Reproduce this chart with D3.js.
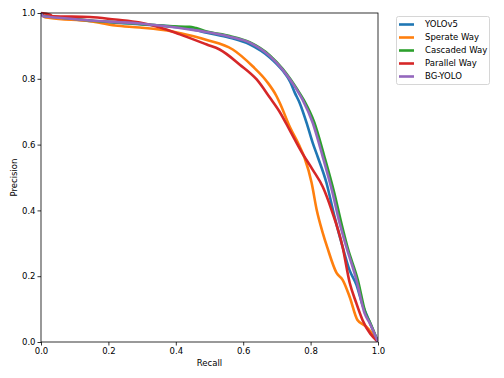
<!DOCTYPE html>
<html>
<head>
<meta charset="utf-8">
<script src="https://cdn.jsdelivr.net/npm/d3@7"></script>
<style>
  body { margin: 0; background: #fff; }
  svg { display: block; font-family: "DejaVu Sans", sans-serif; }
</style>
</head>
<body>
<svg id="chart"></svg>
<script>
// curve points, [recall, precision]
const yolov5 = [
  [0, 1.0], [0.01, 0.99], [0.027, 0.988], [0.145, 0.976], [0.293, 0.966], [0.441, 0.952],
  [0.492, 0.940], [0.56, 0.925], [0.619, 0.905], [0.679, 0.865], [0.717, 0.825], [0.74, 0.79],
  [0.753, 0.758], [0.767, 0.728], [0.79, 0.66], [0.806, 0.606], [0.821, 0.563], [0.847, 0.484],
  [0.871, 0.381], [0.895, 0.289], [0.915, 0.22], [0.936, 0.174], [0.955, 0.11], [0.969, 0.076], [1.0, 0.0]
];
const sperateWay = [
  [0, 1.0], [0.01, 0.988], [0.027, 0.985], [0.145, 0.975], [0.22, 0.962], [0.293, 0.956],
  [0.39, 0.944], [0.45, 0.93], [0.492, 0.918], [0.569, 0.889], [0.628, 0.838], [0.67, 0.792],
  [0.699, 0.747], [0.708, 0.728], [0.74, 0.65], [0.765, 0.6], [0.782, 0.56], [0.803, 0.484],
  [0.818, 0.402], [0.836, 0.332], [0.85, 0.286], [0.877, 0.21], [0.895, 0.189], [0.916, 0.137],
  [0.939, 0.067], [0.966, 0.046], [1.0, 0.0]
];
const cascadedWay = [
  [0, 1.0], [0.01, 0.99], [0.027, 0.989], [0.145, 0.977], [0.293, 0.967], [0.38, 0.96],
  [0.441, 0.958], [0.46, 0.954], [0.492, 0.944], [0.56, 0.93], [0.619, 0.911], [0.679, 0.871],
  [0.717, 0.83], [0.762, 0.765], [0.78, 0.735], [0.811, 0.667], [0.841, 0.563], [0.87, 0.454],
  [0.891, 0.362], [0.91, 0.286], [0.94, 0.189], [0.963, 0.088], [0.977, 0.058], [1.0, 0.0]
];
const parallelWay = [
  [0, 1.0], [0.027, 0.995], [0.035, 0.99], [0.145, 0.988], [0.22, 0.98], [0.293, 0.971],
  [0.353, 0.956], [0.412, 0.935], [0.492, 0.904], [0.53, 0.889], [0.59, 0.843], [0.64, 0.798],
  [0.679, 0.743], [0.708, 0.7], [0.74, 0.64], [0.773, 0.578], [0.806, 0.524], [0.836, 0.472],
  [0.862, 0.402], [0.895, 0.289], [0.916, 0.18], [0.935, 0.12], [0.954, 0.067], [1.0, 0.0]
];
const bgYolo = [
  [0, 1.0], [0.006, 0.99], [0.027, 0.988], [0.145, 0.977], [0.293, 0.968], [0.441, 0.95],
  [0.492, 0.942], [0.56, 0.928], [0.619, 0.91], [0.679, 0.869], [0.717, 0.828], [0.759, 0.767],
  [0.776, 0.737], [0.806, 0.667], [0.836, 0.563], [0.865, 0.454], [0.886, 0.362], [0.907, 0.286],
  [0.936, 0.189], [0.96, 0.088], [0.975, 0.058], [1.0, 0.0]
];

const names = ["YOLOv5", "Sperate Way", "Cascaded Way", "Parallel Way", "BG-YOLO"];
const curves = [yolov5, sperateWay, cascadedWay, parallelWay, bgYolo];
const colors = ["#1f77b4", "#ff7f0e", "#2ca02c", "#d62728", "#9467bd"];
const ticks = [0, 0.2, 0.4, 0.6, 0.8, 1.0];

const width = 504, height = 378;
const margin = { top: 13, right: 126, bottom: 36, left: 41 };

const svg = d3.select("#chart").attr("width", width).attr("height", height);

const x = d3.scaleLinear().domain([0, 1]).range([margin.left, width - margin.right]);
const y = d3.scaleLinear().domain([0, 1]).range([height - margin.bottom, margin.top]);

// curves, clipped to the axes box
svg.append("clipPath").attr("id", "clip")
  .append("rect")
  .attr("x", x(0)).attr("y", y(1) - 2)
  .attr("width", x(1) - x(0)).attr("height", y(0) - y(1) + 2);

const line = d3.line()
  .x(d => x(d[0]))
  .y(d => y(d[1]))
  .curve(d3.curveMonotoneX);

svg.append("g").attr("clip-path", "url(#clip)")
  .selectAll("path")
  .data(curves)
  .join("path")
  .attr("d", line)
  .attr("fill", "none")
  .attr("stroke", (d, i) => colors[i])
  .attr("stroke-width", 2.6)
  .attr("stroke-linejoin", "round");

// axes
const xAxis = svg.append("g")
  .attr("transform", `translate(0,${y(0)})`)
  .call(d3.axisBottom(x).tickValues(ticks).tickFormat(d3.format(".1f")).tickSize(3.5).tickPadding(2));
const yAxis = svg.append("g")
  .attr("transform", `translate(${x(0)},0)`)
  .call(d3.axisLeft(y).tickValues(ticks).tickFormat(d3.format(".1f")).tickSize(3.5).tickPadding(2));

[xAxis, yAxis].forEach(g => {
  g.select(".domain").remove();
  g.selectAll("line").attr("stroke", "#000").attr("stroke-width", 0.8);
  g.selectAll("text").attr("font-size", 8.5).attr("fill", "#000")
    .style("font-family", "DejaVu Sans");
});

// frame
svg.append("rect")
  .attr("x", x(0)).attr("y", y(1))
  .attr("width", x(1) - x(0)).attr("height", y(0) - y(1))
  .attr("fill", "none").attr("stroke", "#000").attr("stroke-width", 0.8);

svg.append("text")
  .attr("x", (x(0) + x(1)) / 2).attr("y", 366)
  .attr("text-anchor", "middle").attr("font-size", 8.5)
  .text("Recall");

svg.append("text")
  .attr("transform", `translate(17,${(y(0) + y(1)) / 2}) rotate(-90)`)
  .attr("text-anchor", "middle").attr("font-size", 8.5)
  .text("Precision");

// legend
const legend = svg.append("g");
legend.append("rect")
  .attr("x", 396.5).attr("y", 16.5).attr("width", 93).attr("height", 68)
  .attr("rx", 2).attr("fill", "#fff").attr("stroke", "#ccc").attr("stroke-width", 0.8);

const item = legend.selectAll("g.item")
  .data(names)
  .join("g")
  .attr("class", "item")
  .attr("transform", (d, i) => `translate(0,${24.5 + i * 13})`);

item.append("line")
  .attr("x1", 399).attr("x2", 414)
  .attr("stroke", (d, i) => colors[i]).attr("stroke-width", 2.6);

item.append("text")
  .attr("x", 425).attr("dy", "0.35em")
  .attr("font-size", 8.5)
  .text(d => d);
</script>
</body>
</html>
